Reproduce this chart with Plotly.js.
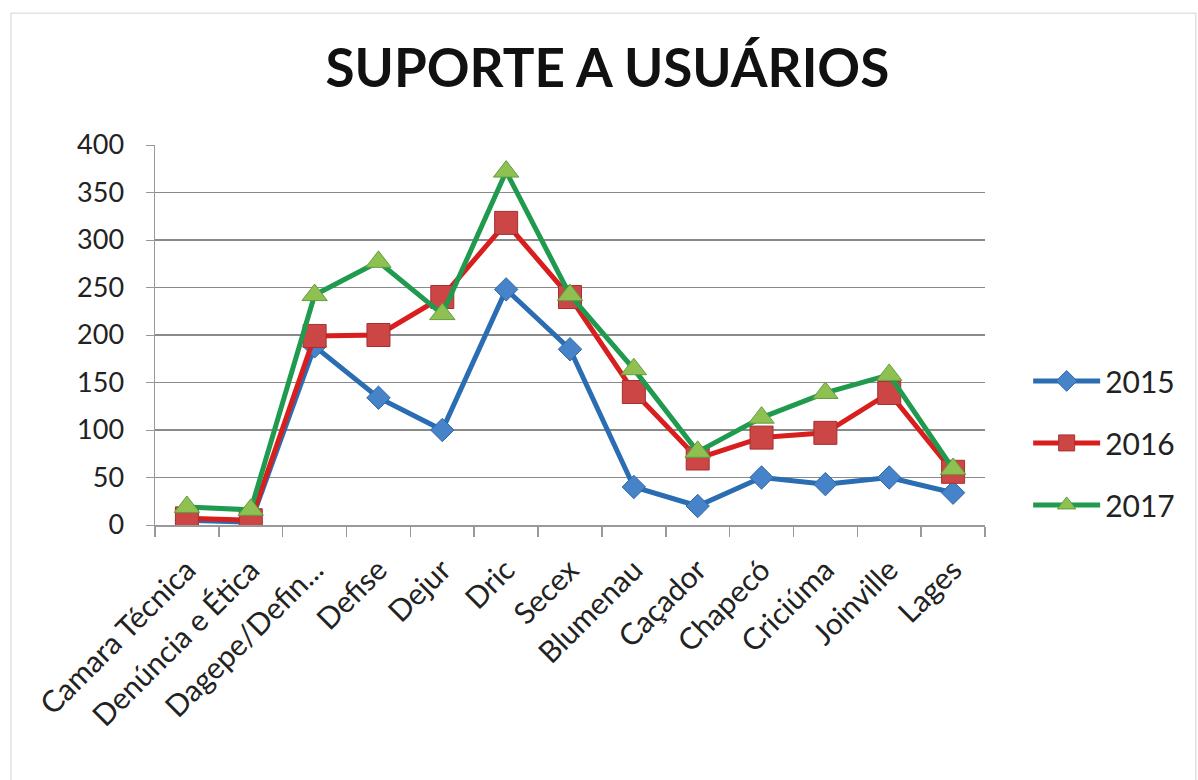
<!DOCTYPE html>
<html>
<head>
<meta charset="utf-8">
<script src="https://cdn.plot.ly/plotly-3.0.1.min.js"></script>
<style>
html,body{margin:0;padding:0;background:#fff;}
#chart{width:1198px;height:780px;}
</style>
</head>
<body>
<div id="chart"></div>
<script>
const categories = ["Camara Técnica","Denúncia e Ética","Dagepe/Defin...","Defise","Dejur","Dric","Secex","Blumenau","Caçador","Chapecó","Criciúma","Joinville","Lages"];
const seriesNames = ["2015","2016","2017"];
const values2015 = [5, 3, 188, 134, 100, 248, 185, 40, 20, 50, 43, 50, 34];
const values2016 = [7, 5, 199, 200, 240, 318, 240, 140, 70, 92, 97, 139, 56];
const values2017 = [19, 16, 242, 277, 222, 372, 242, 164, 77, 113, 139, 158, 59];
const yTicks = [0, 50, 100, 150, 200, 250, 300, 350, 400];

const font = "Lato, 'Open Sans', 'Liberation Sans', sans-serif";

const traces = [
  {x: categories, y: values2015, name: seriesNames[0], type: "scatter", mode: "lines+markers",
   legendgroup: "a",
   line: {color: "#2a6db2", width: 5},
   marker: {symbol: "diamond", size: 18, color: "#4683c8", line: {color: "#2f68a8", width: 1}}},
  {x: categories, y: values2016, name: seriesNames[1], type: "scatter", mode: "lines+markers",
   legendgroup: "b",
   line: {color: "#d91e1e", width: 5},
   marker: {symbol: "square", size: 23, color: "#cc4646", line: {color: "#a53030", width: 1}}},
  {x: categories, y: values2017, name: seriesNames[2], type: "scatter", mode: "lines+markers",
   legendgroup: "c",
   line: {color: "#1f9a4e", width: 5},
   marker: {symbol: "triangle-up", size: 22, color: "#8fc052", line: {color: "#5f9f3e", width: 1}}}
];

const layout = {
  width: 1198, height: 780,
  paper_bgcolor: "#fff", plot_bgcolor: "#fff",
  margin: {l: 155, r: 213, t: 145, b: 255},
  title: {text: "<b>SUPORTE A USUÁRIOS</b>", font: {family: font, size: 53, color: "#111"},
          x: 0.507, xref: "container", xanchor: "center", y: 0.912, yref: "container", yanchor: "middle"},
  showlegend: true,
  legend: {x: 1.052, xanchor: "left", y: 0.216, yanchor: "middle",
           font: {family: font, size: 30, color: "#222"}, tracegroupgap: 20,
           itemwidth: 67, bgcolor: "rgba(0,0,0,0)"},
  xaxis: {type: "category", range: [-0.5, 12.5], tickson: "boundaries", ticks: "outside", ticklen: 10,
          tickcolor: "#999", tickwidth: 1.5, showline: true, linecolor: "#999", linewidth: 1.5,
          showgrid: false, tickangle: -45, tickfont: {family: font, size: 30, color: "#222"},
          zeroline: false, ticklabelstandoff: 14},
  yaxis: {range: [0, 400], tickvals: yTicks, ticks: "outside", ticklen: 8, tickcolor: "#999",
          showline: true, linecolor: "#999", linewidth: 1.5, showgrid: true, gridcolor: "#8a8a8a",
          gridwidth: 1.5, zeroline: false, tickfont: {family: font, size: 27, color: "#222"},
          ticklabelstandoff: 16},
  shapes: [{type: "rect", xref: "paper", yref: "paper", x0: -0.1735, x1: 1.254, y0: -0.7, y1: 1.347,
            line: {color: "#e2e2e2", width: 1.5}}]
};

Plotly.newPlot("chart", traces, layout, {displayModeBar: false, staticPlot: true});
</script>
</body>
</html>
